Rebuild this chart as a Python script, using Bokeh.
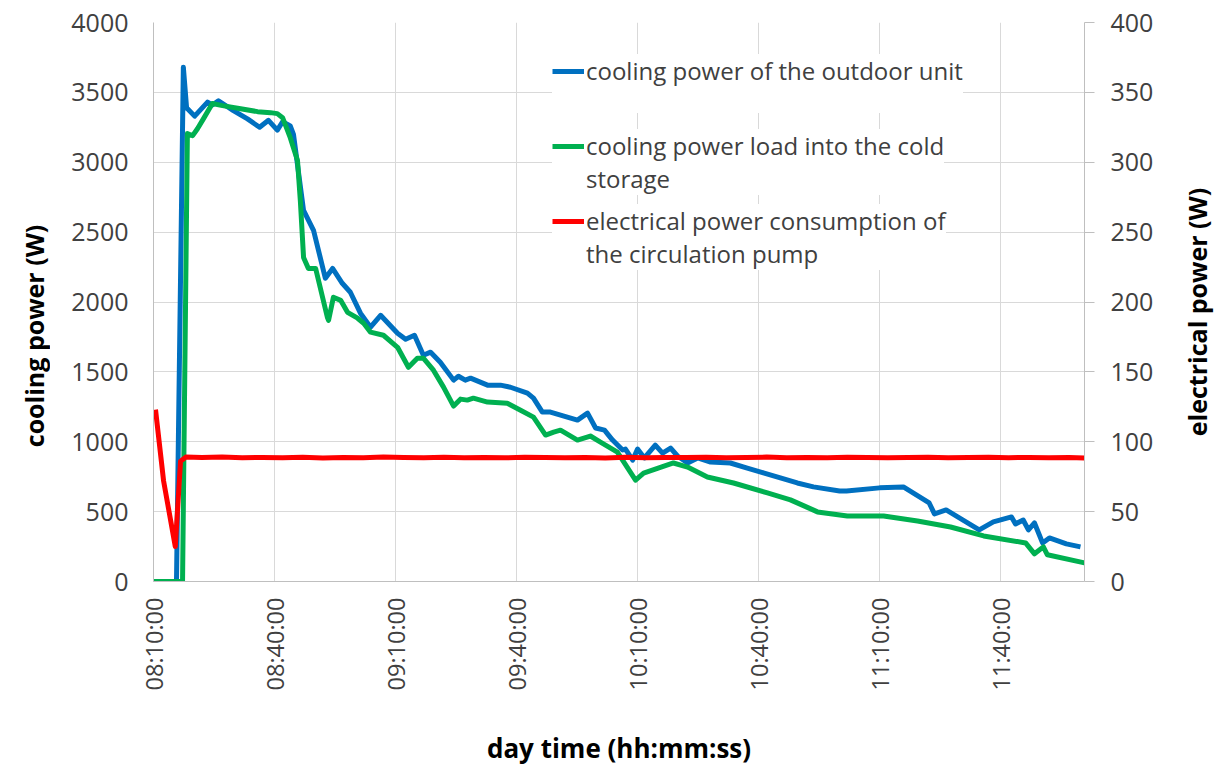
import math
from bokeh.plotting import figure
from bokeh.layouts import row
from bokeh.models import Range1d, LinearAxis, FixedTicker, Legend, LegendItem
from bokeh.core.properties import value
from bokeh.embed import file_html
from bokeh.resources import INLINE

# time axis: minutes of the day; data times are minutes after 08:10:00
START_MIN = 490
END_OFFSET = 230.8

tick_minutes = [490, 520, 550, 580, 610, 640, 670, 700]
tick_labels = ["08:10:00", "08:40:00", "09:10:00", "09:40:00",
               "10:10:00", "10:40:00", "11:10:00", "11:40:00"]
left_ticks = [0, 500, 1000, 1500, 2000, 2500, 3000, 3500, 4000]
right_ticks = [0, 50, 100, 150, 200, 250, 300, 350, 400]

# cooling power of the outdoor unit (W)
outdoor_t = [0, 5.7, 7.4, 8.2, 10.2, 13.4, 14.6, 16.1, 19.8, 23.3, 26.3, 28.5, 30.7, 32.0,
             33.9, 34.7, 37.2, 39.7, 42.6, 44.4, 46.8, 48.8, 51.3, 53.8, 56.3, 60.5,
             62.5, 64.7, 66.9, 68.7, 71.1, 74.4, 75.6, 77.3, 78.6, 82.8, 86.0, 88.5,
             92.7, 94.2, 96.4, 98.4, 105.1, 107.6, 109.6, 111.8, 113.8, 116.3, 117.0,
             118.8, 120.0, 121.7, 124.4, 126.2, 128.2, 129.9, 132.4, 134.9, 138.1,
             143.0, 147.2, 151.4, 155.4, 159.6, 163.6, 170.1, 171.8, 180.0, 185.9,
             192.3, 193.6, 196.5, 204.7, 208.2, 212.7, 213.7, 215.6, 216.9, 218.4,
             220.4, 222.1, 226.3, 229.8]
outdoor_w = [0, 0, 3680, 3390, 3330, 3430, 3410, 3440, 3370, 3310, 3250, 3300, 3230, 3290,
             3260, 3200, 2655, 2510, 2170, 2240, 2134, 2070, 1920, 1820, 1905, 1776,
             1734, 1762, 1619, 1641, 1569, 1441, 1469, 1441, 1455, 1405, 1405, 1390,
             1348, 1312, 1212, 1212, 1155, 1205, 1098, 1083, 1012, 941, 948,
             869, 948, 884, 976, 919, 955, 898, 848, 884, 855,
             848, 812, 776, 741, 705, 677, 648, 648, 670, 677,
             562, 484, 512, 369, 427, 462, 412, 440, 369, 419,
             276, 312, 269, 248]

# cooling power load into the cold storage (W)
storage_t = [0, 7.2, 8.4, 9.7, 10.9, 12.4, 14.6, 17.1, 21.6, 25.8, 29.0, 30.7, 32.0, 33.9,
             35.7, 36.4, 37.2, 38.4, 40.2, 43.1, 43.4, 44.6, 46.4, 48.1, 50.6, 52.1,
             53.8, 57.0, 60.5, 63.2, 65.4, 66.9, 69.4, 71.9, 74.4, 76.1, 77.8, 79.3,
             82.8, 87.7, 91.0, 94.2, 97.2, 99.2, 100.9, 105.1, 108.3, 110.8, 115.0,
             119.5, 121.5, 128.9, 132.4, 137.3, 143.8, 152.2, 157.9, 164.6, 172.0,
             181.0, 189.4, 197.6, 205.8, 216.2, 218.4, 220.6, 221.6, 230.8]
storage_w = [0, 0, 3205, 3190, 3240, 3312, 3420, 3405, 3383, 3362, 3355, 3348, 3319, 3176,
             3012, 2726, 2319, 2240, 2240, 1891, 1869, 2034, 2012, 1926, 1884, 1848,
             1784, 1762, 1676, 1533, 1598, 1598, 1512, 1391, 1255, 1305, 1298, 1312,
             1284, 1276, 1226, 1176, 1048, 1069, 1083, 1012, 1041, 998, 926,
             726, 776, 848, 819, 748, 705, 634, 584, 498, 469,
             469, 433, 390, 326, 276, 198, 248, 191, 133]

# electrical power consumption of the circulation pump (W)
pump_t = [0.5, 2.5, 5.4, 6.7, 8.0, 12, 17, 22, 27, 32, 37, 42, 47, 52, 57, 62, 67, 72,
          77, 82, 87, 92, 97, 102, 107, 112, 117, 122, 127, 132, 137, 142, 147, 152,
          157, 162, 167, 172, 177, 182, 187, 192, 197, 202, 207, 212, 217, 222, 227,
          230.8]
pump_w = [123, 72, 25, 86, 89, 88.7, 89.0, 88.5, 88.8, 88.6, 88.9, 88.4, 88.8, 88.6,
          89.1, 88.7, 88.5, 88.9, 88.6, 88.8, 88.5, 88.9, 88.7, 88.6, 88.8, 88.4, 88.9,
          88.6, 88.8, 88.7, 88.9, 88.5, 88.8, 89.0, 88.6, 88.8, 88.5, 88.9, 88.7, 88.6,
          88.8, 88.9, 88.5, 88.7, 88.9, 88.6, 88.8, 88.5, 88.7, 88.4]

# legend entries: first line (with the series' swatch) and wrapped continuation line
legend_first = ["cooling power of the outdoor unit",
                "cooling power load into the cold",
                "electrical power consumption of"]
legend_second = [" ", "storage", "the circulation pump"]

left_title = "cooling power (W)"
right_title = "electrical power (W)"
bottom_title = "day time (hh:mm:ss)"

BLUE = "#0070C0"
GREEN = "#00B050"
RED = "#FF0000"
FONT = "Open Sans"
TXT = "#404040"
GRID = "#D9D9D9"
AXIS = "#BFBFBF"

H = 769
TOP = 22
BOTTOM = 187
LEFT_W = 50
MAIN_W = 1124
RIGHT_W = 43

# ---------------- main chart ----------------
p = figure(width=MAIN_W, height=H, output_backend="svg", toolbar_location=None,
           x_range=Range1d(START_MIN, START_MIN + END_OFFSET), y_range=Range1d(0, 4000),
           min_border_left=103, min_border_right=90, min_border_top=TOP,
           min_border_bottom=BOTTOM)
p.extra_y_ranges = {"el": Range1d(0, 400)}
p.outline_line_color = None
p.background_fill_color = "white"
p.border_fill_color = "white"

r_blue = p.line([START_MIN + t for t in outdoor_t], outdoor_w, line_color=BLUE,
                line_width=5, line_join="round")
r_green = p.line([START_MIN + t for t in storage_t], storage_w, line_color=GREEN,
                 line_width=5, line_join="round")
r_red = p.line([START_MIN + t for t in pump_t], pump_w, line_color=RED,
               line_width=5, line_join="round", y_range_name="el")
# invisible swatch for wrapped legend lines
r_none = p.line([], [], line_alpha=0)

# x axis
xa = p.xaxis[0]
xa.ticker = FixedTicker(ticks=tick_minutes)
xa.major_label_overrides = {m: s for m, s in zip(tick_minutes, tick_labels)}
xa.major_label_orientation = math.pi / 2
xa.major_label_text_font = FONT
xa.major_label_text_font_size = "23.5px"
xa.major_label_text_color = TXT
xa.major_label_standoff = 16
xa.major_tick_out = 0
xa.major_tick_in = 0
xa.minor_tick_out = 0
xa.minor_tick_in = 0
xa.axis_line_color = AXIS
xa.axis_label = bottom_title
xa.axis_label_text_font = FONT
xa.axis_label_text_font_style = "bold"
xa.axis_label_text_font_size = "26px"
xa.axis_label_text_color = "black"
xa.axis_label_standoff = 37

# left axis (its title is drawn in the narrow panel at the left)
ya = p.yaxis[0]
ya.ticker = FixedTicker(ticks=left_ticks)
ya.major_label_text_font = FONT
ya.major_label_text_font_size = "25px"
ya.major_label_text_color = TXT
ya.major_label_standoff = 25
ya.major_tick_out = 0
ya.major_tick_in = 0
ya.minor_tick_out = 0
ya.minor_tick_in = 0
ya.axis_line_color = AXIS

# right axis
ra = LinearAxis(y_range_name="el", ticker=FixedTicker(ticks=right_ticks))
ra.major_label_text_font = FONT
ra.major_label_text_font_size = "25px"
ra.major_label_text_color = TXT
ra.major_label_standoff = 16
ra.major_tick_out = 10
ra.major_tick_in = 0
ra.major_tick_line_color = AXIS
ra.minor_tick_out = 0
ra.minor_tick_in = 0
ra.axis_line_color = AXIS
p.add_layout(ra, "right")

p.xgrid.ticker = FixedTicker(ticks=tick_minutes)
p.ygrid.ticker = FixedTicker(ticks=left_ticks)
p.xgrid.grid_line_color = GRID
p.ygrid.grid_line_color = GRID
p.xgrid.grid_line_width = 1
p.ygrid.grid_line_width = 1

series_renderers = [r_blue, r_green, r_red]
legend_locs = [(399, 468), (399, 386), (399, 311)]
for first, second, rend, loc in zip(legend_first, legend_second, series_renderers, legend_locs):
    lg = Legend(items=[LegendItem(label=first, renderers=[rend]),
                       LegendItem(label=second, renderers=[r_none])],
                location=loc)
    lg.label_text_font = FONT
    lg.label_text_font_size = "24px"
    lg.label_text_color = TXT
    lg.glyph_width = 32
    lg.glyph_height = 26
    lg.label_height = 26
    lg.label_standoff = 2
    lg.spacing = 0
    lg.padding = 6
    lg.margin = 0
    lg.border_line_color = None
    lg.background_fill_color = "white"
    lg.background_fill_alpha = 1.0
    p.add_layout(lg)


# ---------------- vertical axis titles (narrow side panels) ----------------
# the panels' frames are aligned with the main frame, so their y range is laid out
# in page pixels (top of frame = TOP, bottom of frame = H - BOTTOM)
def title_panel(width, text, cx, cy):
    f = figure(width=width, height=H, output_backend="svg", toolbar_location=None,
               x_range=Range1d(0, width), y_range=Range1d(H - BOTTOM, TOP),
               x_axis_location=None, y_axis_location=None, min_border=0)
    f.outline_line_color = None
    f.xgrid.visible = False
    f.ygrid.visible = False
    f.background_fill_color = "white"
    f.border_fill_color = "white"
    f.text(x=[cx], y=[cy], text=[text], angle=math.pi / 2, text_align="center",
           text_baseline="middle", text_font=value(FONT), text_font_style="bold",
           text_font_size="25px", text_color="black")
    return f


p_left = title_panel(LEFT_W, left_title, 33, 336)
p_right = title_panel(RIGHT_W, right_title, 22, 312)

layout = row(p_left, p, p_right, spacing=0)
open("out.html", "w").write(file_html(layout, INLINE))
